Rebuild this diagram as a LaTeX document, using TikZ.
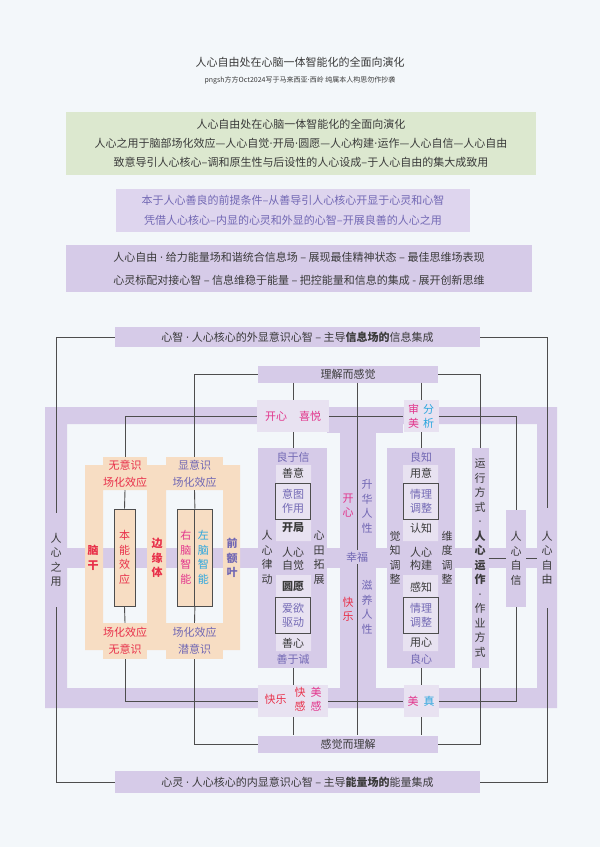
\documentclass[tikz,border=0pt]{standalone}
\usepackage{fontspec}
\setmainfont{Noto Sans CJK SC}
\newfontfamily\dotfont{DejaVu Sans}
\usetikzlibrary{positioning,calc}

\definecolor{paper}{HTML}{F3F7FA}
\definecolor{sage}{HTML}{DCE8CF}
\definecolor{lavlt}{HTML}{DED5EE}
\definecolor{lav}{HTML}{D6CBE8}
\definecolor{lavpale}{HTML}{E8E2F1}
\definecolor{peach}{HTML}{F7DDC3}
\definecolor{ink}{HTML}{3A3A3A}
\definecolor{wirec}{HTML}{4D4D4D}
\definecolor{rosered}{HTML}{E8304A}
\definecolor{rosepink}{HTML}{E2358C}
\definecolor{skyblue}{HTML}{2AA6DE}
\definecolor{lilac}{HTML}{7268B4}

\newcommand\stk[1]{\begin{tabular}{@{}c@{}}#1\end{tabular}}
\newcommand\mdot{{\dotfont ·}}

\tikzset{
  txt/.style={font=\fontsize{11}{14.5}\selectfont, text=ink, inner sep=0pt},
  vtxt/.style={txt, align=center},
  lbl/.style={txt, fill=lav},
  pale/.style={txt, fill=lavpale},
  tab/.style={txt, fill=peach, align=center, font=\fontsize{11}{17}\selectfont},
  boxed/.style={vtxt, draw=wirec, line width=0.8pt},
  link/.style={draw=wirec, line width=0.9pt}
}

\begin{document}
\begin{tikzpicture}[x=1pt,y=-1pt]
  \useasboundingbox (0,0) rectangle (600,847);
  \fill[paper] (0,0) rectangle (600,847);

  % heading
  \node[txt] (title) at (300,62) {人心自由处在心脑一体智能化的全面向演化};
  \node[txt, font=\fontsize{7}{8}\selectfont] (sub) at (300,80) {pngsh方方Oct2024写于马来西亚\mdot 西岭 纯属本人构思勿作抄袭};

  % three text panels
  \node[txt, fill=sage, minimum width=470pt, minimum height=63pt, align=center, font=\fontsize{11}{19}\selectfont] (intro) at (301,143.5)
    {人心自由处在心脑一体智能化的全面向演化\\人心之用于脑部场化效应—人心自觉\mdot 开局\mdot 圆愿—人心构建\mdot 运作—人心自信—人心自由\\致意导引人心核心--调和原生性与后设性的人心设成--于人心自由的集大成致用};
  \node[txt, fill=lavlt, text=lilac, minimum width=354pt, minimum height=43pt, align=center, font=\fontsize{11}{20}\selectfont] (premise) at (293,210.5)
    {本于人心善良的前提条件--从善导引人心核心开显于心灵和心智\\凭借人心核心--内显的心灵和外显的心智--开展良善的人心之用};
  \node[txt, fill=lav, minimum width=466pt, minimum height=47pt, align=center, font=\fontsize{11}{23}\selectfont] (freedom) at (299,268.5)
    {人心自由 \mdot{} 给力能量场和谐统合信息场 -- 展现最佳精神状态 -- 最佳思维场表现\\心灵标配对接心智 -- 信息维稳于能量 -- 把控能量和信息的集成 - 展开创新思维};

  % frame and bands
  \fill[lav, even odd rule] (45,407) rectangle (557,708) (67,424) rectangle (537,688);
  \fill[lav] (67,548) rectangle (537,568);
  \fill[lav] (327,424) rectangle (403,433);
  \fill[lav] (340,424) rectangle (376,688);

  % brain part
  \fill[peach, even odd rule] (85,465) rectangle (240,650) (103,490) rectangle (147,623) (166,490) rectangle (223,623);
  \node[tab, text=rosered, minimum width=44pt, minimum height=33pt] (wuyi) at (125,473.5) {无意识\\场化效应};
  \node[tab, text=lilac, minimum width=57pt, minimum height=33pt] (xianyi) at (194.5,473.5) {显意识\\场化效应};
  \node[tab, text=rosered, minimum width=44pt, minimum height=36pt] (wuyi2) at (125,641) {场化效应\\无意识};
  \node[tab, text=lilac, minimum width=57pt, minimum height=36pt] (qianyi) at (194.5,641) {场化效应\\潜意识};
  \node[boxed, fill=peach, text=rosered, minimum width=21pt, minimum height=97pt] (benneng) at (124.5,557.5) {本\\能\\效\\应};
  \node[boxed, fill=peach, text=rosepink, minimum width=17.5pt, minimum height=97pt] (youn) at (185.75,557.5) {右\\脑\\智\\能};
  \node[boxed, fill=peach, text=skyblue, minimum width=17.5pt, minimum height=97pt] (zuon) at (203.25,557.5) {左\\脑\\智\\能};
  \node[vtxt, text=rosered, font=\bfseries\fontsize{11}{14.5}\selectfont] (naogan) at (93,558) {脑\\干};
  \node[vtxt, text=rosered, font=\bfseries\fontsize{11}{14.5}\selectfont] (bianyuan) at (157,558) {边\\缘\\体};
  \node[vtxt, text=lilac, font=\bfseries\fontsize{11}{14.5}\selectfont] (qiane) at (232,558) {前\\额\\叶};

  % heart panels
  \node[lbl, minimum width=69pt, minimum height=220pt] (pnlL) at (292.5,558) {};
  \node[lbl, minimum width=68pt, minimum height=220pt] (pnlR) at (421,558) {};
  \fill[lavpale] (276,465) rectangle (311,541) (276,575) rectangle (311,651);
  \fill[lavpale] (403,465) rectangle (438,541) (403,575) rectangle (438,651);

  \node[txt, text=lilac] (liangxin) at (293,457) {良于信};
  \node[txt] (shanyi) at (293,473) {善意};
  \node[boxed, fill=lavpale, text=lilac, minimum width=35pt, minimum height=36pt, font=\fontsize{11}{14}\selectfont] (yitu) at (293,501) {意图\\作用};
  \node[txt, font=\bfseries\fontsize{11}{14.5}\selectfont] (kaiju) at (293,528) {开局};
  \node[vtxt, font=\fontsize{11}{13}\selectfont] (zijue) at (293,558.5) {人心\\自觉};
  \node[txt, font=\bfseries\fontsize{11}{14.5}\selectfont] (yuanyuan) at (293,587) {圆愿};
  \node[boxed, fill=lavpale, text=lilac, minimum width=35pt, minimum height=36pt, font=\fontsize{11}{14}\selectfont] (aiyu) at (293,615) {爱欲\\驱动};
  \node[txt] (shanxin) at (293,643) {善心};
  \node[txt, text=lilac] (shancheng) at (293,659) {善于诚};
  \node[vtxt] (lvdong) at (267,557.5) {人\\心\\律\\动};
  \node[vtxt] (xintian) at (319,557.5) {心\\田\\拓\\展};

  \node[txt, text=lilac] (liangzhi) at (421,457) {良知};
  \node[txt] (yongyi) at (421,473) {用意};
  \node[boxed, fill=lavpale, text=lilac, minimum width=35pt, minimum height=36pt, font=\fontsize{11}{14}\selectfont] (qingli) at (421,501) {情理\\调整};
  \node[txt] (renzhi) at (421,528) {认知};
  \node[vtxt, font=\fontsize{11}{13}\selectfont] (goujian) at (421,558.5) {人心\\构建};
  \node[txt] (ganzhi) at (421,587) {感知};
  \node[boxed, fill=lavpale, text=lilac, minimum width=35pt, minimum height=36pt, font=\fontsize{11}{14}\selectfont] (qingli2) at (421,615) {情理\\调整};
  \node[txt] (yongxin) at (421,643) {用心};
  \node[txt, text=lilac] (liangxin2) at (421,659) {良心};
  \node[vtxt] (juezhi) at (395,557.5) {觉\\知\\调\\整};
  \node[vtxt] (weidu) at (447,557.5) {维\\度\\调\\整};

  % centre column
  \node[vtxt, text=rosepink] (kaixin2) at (348,505.5) {开\\心};
  \node[vtxt, text=lilac] (shenghua) at (367,506.5) {升\\华\\人\\性};
  \node[vtxt, text=rosered] (kuaile2) at (348,609.5) {快\\乐};
  \node[vtxt, text=lilac] (ziyang) at (367,607.5) {滋\\养\\人\\性};
  \coordinate (axis) at (357,557);

  % right bars
  \node[lbl, vtxt, minimum width=17pt, minimum height=220pt] (yunxing) at (480,558)
    {运\\行\\方\\式\\\mdot\\\textbf{人}\\\textbf{心}\\\textbf{运}\\\textbf{作}\\\mdot\\作\\业\\方\\式};
  \node[lbl, vtxt, minimum width=20pt, minimum height=97pt] (zixin) at (516,558.5) {人\\心\\自\\信};
  \node[lbl, vtxt, minimum width=20pt, minimum height=100pt] (ziyou) at (547,558) {人\\心\\自\\由};
  \node[lbl, vtxt, minimum width=20pt, minimum height=94pt] (yong) at (56,560) {人\\心\\之\\用};

  % joy / beauty boxes
  \node[pale, minimum width=72pt, minimum height=32pt] (kaixin) at (293,416)
    {\textcolor{rosepink}{开心}\hspace{12pt}\textcolor{rosepink}{喜悦}};
  \node[pale, minimum width=35pt, minimum height=32pt, align=center, font=\fontsize{11}{14}\selectfont] (shenmei) at (421,416)
    {\textcolor{rosepink}{审}\hspace{4pt}\textcolor{skyblue}{分}\\\textcolor{rosepink}{美}\hspace{4pt}\textcolor{skyblue}{析}};
  \node[pale, minimum width=70pt, minimum height=32pt, font=\fontsize{11}{14}\selectfont] (kuaile) at (293,701)
    {\textcolor{rosered}{快乐}\hspace{8pt}\stk{\textcolor{rosered}{快}\\\textcolor{rosered}{感}}\hspace{5pt}\stk{\textcolor{rosepink}{美}\\\textcolor{rosepink}{感}}};
  \node[pale, minimum width=35pt, minimum height=32pt] (meizhen) at (421,701)
    {\textcolor{rosepink}{美}\hspace{5pt}\textcolor{skyblue}{真}};

  % outer labels
  \node[lbl, minimum width=365pt, minimum height=20pt] (xinzhi) at (297.5,337) {心智 \mdot{} 人心核心的外显意识心智 -- 主导\textbf{信息场的}信息集成};
  \node[lbl, minimum width=365pt, minimum height=22pt] (xinling) at (297.5,782) {心灵 \mdot{} 人心核心的内显意识心智 -- 主导\textbf{能量场的}能量集成};
  \node[lbl, minimum width=180pt, minimum height=17pt] (lijie) at (348,374) {理解而感觉};
  \node[lbl, minimum width=180pt, minimum height=17pt] (ganjue) at (348,744) {感觉而理解};

  % connectors
  \draw[link] (xinzhi.west) -| (yong.north);
  \draw[link] (yong.south) |- (xinling.west);
  \draw[link] (xinzhi.east) -| (ziyou.north);
  \draw[link] (ziyou.south) |- (xinling.east);
  \draw[link] (lijie.west) -| (xianyi.north);
  \draw[link] (lijie.east) -| (yunxing.north);
  \draw[link] (ganjue.west) -| (qianyi.south);
  \draw[link] (ganjue.east) -| (yunxing.south);
  \draw[link] (lijie.south -| kaixin.north) -- (kaixin.north);
  \draw[link] (lijie.south -| shenmei.north) -- (shenmei.north);
  \draw[link] (lijie.south -| axis) -- (ganjue.north -| axis);
  \draw[link] (wuyi.north) |- (kaixin.west);
  \draw[link] (kaixin.east) -- (shenmei.west);
  \draw[link] (shenmei.east) -| (zixin.north);
  \draw[link] (kaixin.south) -- (kaixin.south |- pnlL.north);
  \draw[link] (shenmei.south) -- (pnlR.north);
  \draw[link] (kaixin.south |- pnlL.south) -- (kuaile.north);
  \draw[link] (pnlR.south) -- (meizhen.north);
  \draw[link] (kuaile.south) -- (kuaile.south |- ganjue.north);
  \draw[link] (meizhen.south) -- (meizhen.south |- ganjue.north);
  \draw[link] (wuyi2.south) |- (kuaile.west);
  \draw[link] (kuaile.east) -- (meizhen.west);
  \draw[link] (meizhen.east) -| (zixin.south);
  \draw[link] (wuyi.south) -- (benneng.north);
  \draw[link] (benneng.south) -- (wuyi2.north);
  \draw[link] (xianyi.south) -- (youn.north east);
  \draw[link] (youn.south east) -- (qianyi.north);
  \draw[link] (yunxing.east) -- (yunxing.east -| zixin.west);
  \draw[link] (zixin.east) -- (zixin.east -| ziyou.west);

  \node[lbl, text=lilac, inner sep=2pt] (xingfu) at (axis) {幸福};
\end{tikzpicture}
\end{document}
